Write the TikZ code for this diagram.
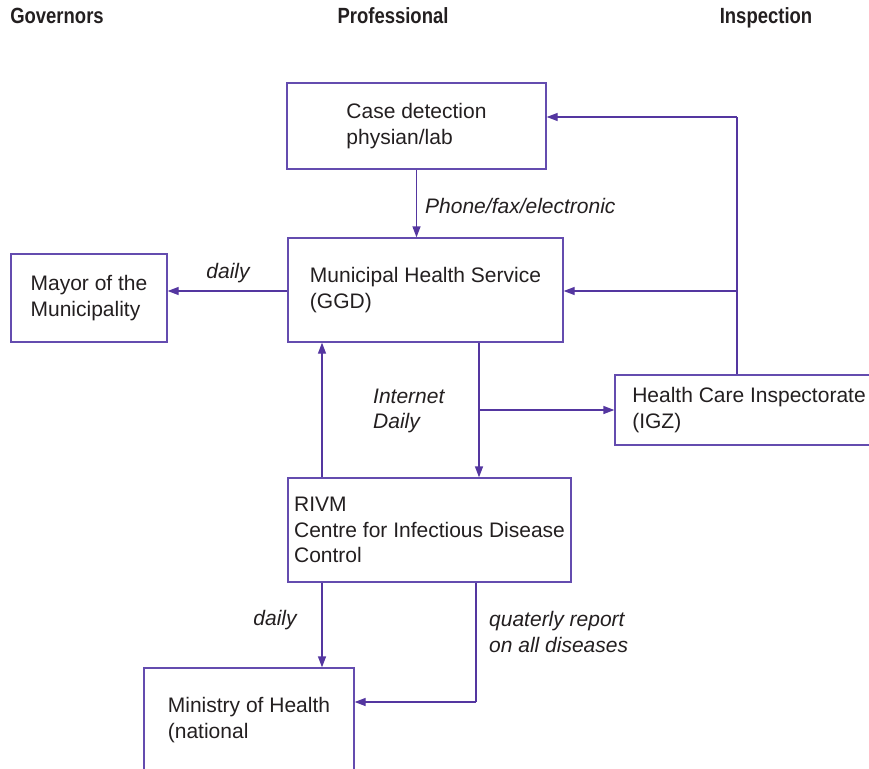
\documentclass[tikz,border=0pt]{standalone}
\usepackage{fontspec}
\setmainfont{Liberation Sans}
\newfontfamily\headfont[FakeStretch=0.84]{Liberation Sans}
\usepackage{tikz}
\usetikzlibrary{arrows.meta,positioning}
\definecolor{flowPurple}{RGB}{84,54,160}
\definecolor{boxPurple}{RGB}{100,76,175}
\definecolor{nptext}{RGB}{35,31,32}

\begin{document}
\begin{tikzpicture}[x=1pt,y=-1pt,
    box/.style={draw=boxPurple, line width=1.3pt, align=left, inner sep=0pt,
        text=nptext, font=\fontsize{21}{25.3}\selectfont},
    flow/.style={draw=flowPurple, line width=1.3pt, -{Triangle[length=11pt,width=8pt]}},
    wire/.style={draw=flowPurple, line width=1.3pt},
    lbl/.style={text=nptext, align=left, inner sep=0pt,
        font=\fontsize{21}{25.3}\selectfont\itshape},
    head/.style={text=nptext, inner sep=0pt, anchor=base, font=\fontsize{22}{26}\selectfont\headfont\bfseries}]
    \useasboundingbox (0,0) rectangle (869,768);

    % column headings
    \node[head] (govhead) at (57,24) {Governors};
    \node[head] (profhead) at (393,24) {Professional};
    \node[head] (insphead) at (766,24) {Inspection};

    % boxes
    \node[box, minimum width=259pt, minimum height=86pt] (case) at (416.5,126) {Case detection\\physian/lab};
    \node[box, minimum width=275pt, minimum height=104pt] (ggd) at (425.5,290) {Municipal Health Service\\(GGD)};
    \node[box, minimum width=156pt, minimum height=88pt] (mayor) at (89,298) {Mayor of the\\Municipality};
    \node[box, minimum width=268pt, minimum height=70pt] (igz) at (749,410) {Health Care Inspectorate\\(IGZ)};
    \node[box, minimum width=283pt, minimum height=104pt] (rivm) at (429.5,530) {RIVM\\Centre for Infectious Disease\\Control};
    \node[box, minimum width=210pt, minimum height=104pt] (ministry) at (249,720) {Ministry of Health\\(national};

    % bends
    \coordinate (bend) at (737,117);
    \coordinate (branch) at (737,291);
    \coordinate (split) at (479,410);
    \coordinate (upline) at (322,530);
    \coordinate (quarter) at (476,702);

    % connectors
    \draw[flow] (case.south) -- (case.south |- ggd.north);
    \draw[flow] (ggd.west |- branch) -- (mayor.east |- branch);
    \draw[wire] (igz.north -| bend) -- (bend);
    \draw[flow] (bend) -- (case.east |- bend);
    \draw[flow] (branch) -- (ggd.east |- branch);
    \draw[flow] (ggd.south -| split) -- (rivm.north -| split);
    \draw[flow] (split) -- (igz.west |- split);
    \draw[flow] (rivm.north -| upline) -- (ggd.south -| upline);
    \draw[flow] (rivm.south -| upline) -- (ministry.north -| upline);
    \draw[wire] (rivm.south -| quarter) -- (quarter);
    \draw[flow] (quarter) -- (ministry.east |- quarter);

    % labels
    \node[lbl, anchor=west] (phonelbl) at (425,206) {Phone/fax/electronic};
    \node[lbl] (mayorlbl) at (228,273) {daily};
    \node[lbl, anchor=west] (netlbl) at (373,411) {Internet\\Daily};
    \node[lbl] (dailylbl) at (275,620) {daily};
    \node[lbl, anchor=west] (quarterlbl) at (489,632) {quaterly report\\on all diseases};
\end{tikzpicture}
\end{document}
